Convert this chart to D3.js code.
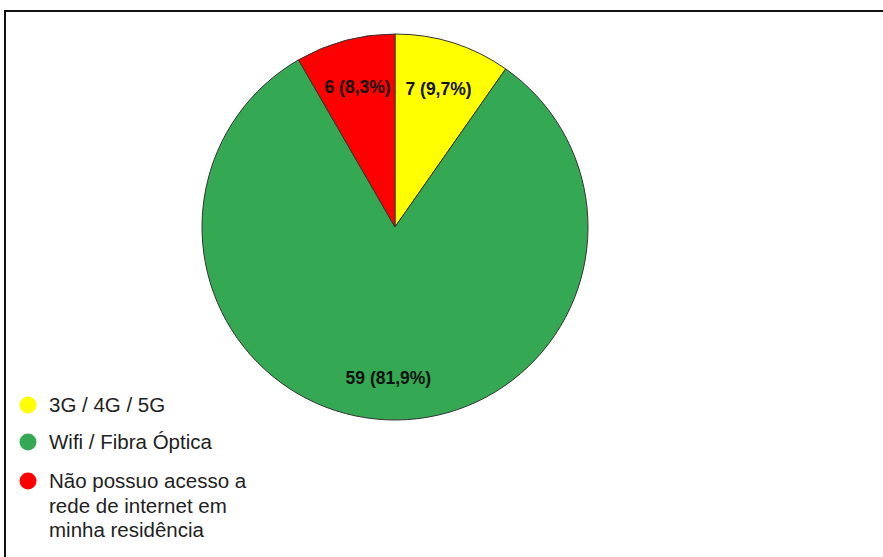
<!DOCTYPE html>
<html>
<head>
<meta charset="utf-8">
<script src="https://cdn.jsdelivr.net/npm/d3@7/dist/d3.min.js"></script>
<style>
  html, body { margin: 0; padding: 0; background: #fff; }
  svg { display: block; }
</style>
</head>
<body>
<svg id="chart" width="883" height="557"></svg>
<script>
// Tipo de acesso à internet na residência
const categories = ["3G / 4G / 5G", "Wifi / Fibra Óptica", "Não possuo acesso a rede de internet em minha residência"];
const legendLines = [["3G / 4G / 5G"], ["Wifi / Fibra Óptica"], ["Não possuo acesso a", "rede de internet em", "minha residência"]];
const values = [7, 59, 6];
const percentLabels = ["9,7%", "81,9%", "8,3%"];
const colors = ["#ffff00", "#34a853", "#ff0000"];

const svg = d3.select("#chart");
const font = "Liberation Sans, Arial, sans-serif";

// frame
svg.append("path")
  .attr("d", "M5,557 V11 H883")
  .attr("fill", "none")
  .attr("stroke", "#111")
  .attr("stroke-width", 2);

const cx = 395, cy = 227, r = 193;
const g = svg.append("g").attr("transform", `translate(${cx},${cy})`);

const total = d3.sum(values);
const pie = d3.pie().sort(null).value(d => d.value);
const arcs = pie(categories.map((c, i) => ({ name: c, value: values[i], i })));
const arc = d3.arc().innerRadius(0).outerRadius(r);

g.selectAll("path.slice")
  .data(arcs)
  .join("path")
  .attr("class", "slice")
  .attr("d", arc)
  .attr("fill", d => colors[d.data.i])
  .attr("stroke", "#333")
  .attr("stroke-width", 1);

// large slices carry their label a little further out
g.selectAll("text.lbl")
  .data(arcs)
  .join("text")
  .attr("class", "lbl")
  .attr("transform", d => {
    const k = d.data.value / total > 0.5 ? 0.785 : 0.75;
    const [x, y] = d3.arc().innerRadius(r * k).outerRadius(r * k).centroid(d);
    return `translate(${x},${y})`;
  })
  .attr("text-anchor", "middle")
  .attr("dy", "0.35em")
  .attr("font-family", font)
  .attr("font-size", 17.5)
  .attr("font-weight", "bold")
  .attr("fill", "#111")
  .text(d => `${d.data.value} (${percentLabels[d.data.i]})`);

// legend
const legendY = [405, 442, 481];
const lg = svg.append("g");
legendLines.forEach((lines, i) => {
  lg.append("circle")
    .attr("cx", 28).attr("cy", legendY[i]).attr("r", 8.5)
    .attr("fill", colors[i]);
  const t = lg.append("text")
    .attr("x", 49).attr("y", legendY[i])
    .attr("font-family", font)
    .attr("font-size", 20.5)
    .attr("fill", "#222");
  lines.forEach((line, j) => {
    t.append("tspan").attr("x", 49).attr("dy", j === 0 ? "0.35em" : 24.5).text(line);
  });
});
</script>
</body>
</html>
